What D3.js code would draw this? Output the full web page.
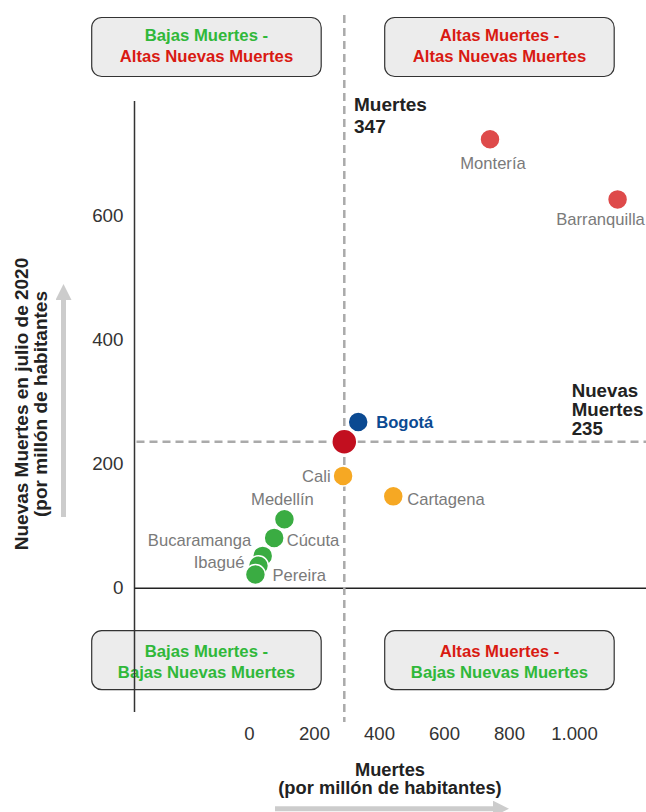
<!DOCTYPE html>
<html>
<head>
<meta charset="utf-8">
<script src="https://cdn.jsdelivr.net/npm/d3@7"></script>
<style>
  html, body { margin: 0; padding: 0; background: #fff; }
  svg { display: block; font-family: "Liberation Sans", Arial, sans-serif; }
</style>
</head>
<body>
<svg id="chart" width="646" height="812"></svg>
<script>
// ---------------- DATA ----------------
const cities = ["Montería", "Barranquilla", "Bogotá", "Colombia", "Cali", "Cartagena", "Medellín", "Cúcuta", "Bucaramanga", "Ibagué", "Pereira"];
const deaths = [588, 799, 370, 347, 345, 428, 248, 231, 212, 205, 200];          // Muertes por millón
const newDeaths = [723, 626, 267, 235, 180, 147, 110, 80, 51, 35, 21];          // Nuevas muertes julio 2020
const groups = ["alto", "alto", "bogota", "pais", "medio", "medio", "bajo", "bajo", "bajo", "bajo", "bajo"];
const xTickValues = [0, 200, 400, 600, 800, 1000];
const yTickValues = [0, 200, 400, 600];
const avgDeaths = 347;
const avgNewDeaths = 235;
const quadrantTitles = [
  ["Bajas Muertes -", "Altas Nuevas Muertes"],
  ["Altas Muertes -", "Altas Nuevas Muertes"],
  ["Bajas Muertes -", "Bajas Nuevas Muertes"],
  ["Altas Muertes -", "Bajas Nuevas Muertes"]
];
const yTitle = ["Nuevas Muertes en julio de 2020", "(por millón de habitantes"];
const xTitle = ["Muertes", "(por millón de habitantes)"];

// ---------------- STYLE / LAYOUT ----------------
const colors = { alto: "#de4a4a", pais: "#c20f1f", bogota: "#0b4a92", medio: "#f6a823", bajo: "#3aac42" };
const GREEN = "#30b83a", RED = "#d91a12";
const labelPlacement = {
  "Montería":    { dx: 3,   dy: 24,  anchor: "middle" },
  "Barranquilla":{ dx: -17, dy: 20,  anchor: "middle" },
  "Bogotá":      { dx: 18,  dy: 0,   anchor: "start", bold: true },
  "Cali":        { dx: -12.5, dy: 0, anchor: "end" },
  "Cartagena":   { dx: 14,  dy: 2.5, anchor: "start" },
  "Medellín":    { dx: -2,  dy: -20, anchor: "middle" },
  "Cúcuta":      { dx: 12.5,dy: 2.3, anchor: "start" },
  "Bucaramanga": { dx: -11.5,dy: -15.7, anchor: "end" },
  "Ibagué":      { dx: -14, dy: -3.4, anchor: "end" },
  "Pereira":     { dx: 17,  dy: 0.7, anchor: "start" }
};

const svg = d3.select("#chart");
const W = 646;

const x = d3.scaleLinear().domain([0, 1000]).range([134.5, 739.1]);
const y = d3.scaleLinear().domain([0, 600]).range([587.5, 215.5]);
// tick-label scale for the horizontal axis (labels in the reference sit on their own band)
const xTicks = d3.scaleLinear().domain([0, 1000]).range([249, 574]);

const loc = d3.formatLocale({ decimal: ",", thousands: ".", grouping: [3], currency: ["$", ""] });
const fmt = loc.format(",d");

// ----- quadrant boxes -----
const boxW = 229.5, boxH = 59;
const boxPos = [[91.7, 17.5], [384.7, 17.5], [91.7, 630.7], [384.7, 630.7]];
const textOffset = [23.3, 23.3, 26.3, 26.3];
quadrantTitles.forEach((lines, i) => {
  const g = svg.append("g").attr("transform", `translate(${boxPos[i][0]},${boxPos[i][1]})`);
  g.append("rect").attr("width", boxW).attr("height", boxH).attr("rx", 10).attr("ry", 10)
    .attr("fill", "#ececec").attr("stroke", "#333").attr("stroke-width", 1.2);
  lines.forEach((t, j) => {
    const col = t.startsWith("Bajas") ? GREEN : RED;
    g.append("text").attr("x", boxW / 2).attr("y", textOffset[i] + j * 21)
      .attr("text-anchor", "middle").attr("font-size", 16.7).attr("font-weight", "bold")
      .attr("fill", col).text(t);
  });
});

// ----- axes lines -----
svg.append("line").attr("x1", x(0)).attr("x2", x(0)).attr("y1", 101).attr("y2", 712)
  .attr("stroke", "#333").attr("stroke-width", 1.5);
svg.append("line").attr("x1", x(0)).attr("x2", W).attr("y1", y(0) + 0.8).attr("y2", y(0) + 0.8)
  .attr("stroke", "#222").attr("stroke-width", 1.5);

// ----- reference dashed lines -----
svg.append("line").attr("x1", x(avgDeaths)).attr("x2", x(avgDeaths)).attr("y1", 15).attr("y2", 722)
  .attr("stroke", "#aaa").attr("stroke-width", 2.5).attr("stroke-dasharray", "8,5");
svg.append("line").attr("x1", x(0) + 2).attr("x2", W).attr("y1", y(avgNewDeaths)).attr("y2", y(avgNewDeaths))
  .attr("stroke", "#aaa").attr("stroke-width", 2.5).attr("stroke-dasharray", "8,5");

// ----- y axis ticks -----
const yAxis = d3.axisLeft(y).tickValues(yTickValues).tickSize(0).tickPadding(11).tickFormat(fmt);
const gy = svg.append("g").attr("transform", `translate(${x(0)},0)`).call(yAxis);
gy.select(".domain").remove();
gy.selectAll("text").attr("font-size", 18.8).attr("fill", "#333")
  .attr("font-family", "'Liberation Sans', Arial, sans-serif").attr("dy", "0.3em");

// ----- x axis tick labels -----
const xAxis = d3.axisBottom(xTicks).tickValues(xTickValues).tickSize(0).tickPadding(0).tickFormat(fmt);
const gx = svg.append("g").attr("transform", `translate(0,733.5)`).call(xAxis);
gx.select(".domain").remove();
gx.selectAll("text").attr("font-size", 18.6).attr("fill", "#333")
  .attr("font-family", "'Liberation Sans', Arial, sans-serif").attr("dy", "0.35em");

// ----- reference labels -----
const refX = svg.append("text").attr("x", 354).attr("y", 110.7).attr("font-size", 19)
  .attr("font-weight", "bold").attr("fill", "#222");
refX.append("tspan").attr("x", 354).text("Muertes");
refX.append("tspan").attr("x", 354).attr("dy", 22).text(fmt(avgDeaths));

const refY = svg.append("text").attr("x", 571.7).attr("y", 397).attr("font-size", 18.7)
  .attr("font-weight", "bold").attr("fill", "#222");
refY.append("tspan").attr("x", 571.7).text("Nuevas");
refY.append("tspan").attr("x", 571.7).attr("dy", 19.2).text("Muertes");
refY.append("tspan").attr("x", 571.7).attr("dy", 19.2).text(fmt(avgNewDeaths));

// ----- axis titles -----
yTitle.forEach((t, j) => {
  svg.append("text").attr("transform", `translate(${21.7 + j * 18.5},404) rotate(-90)`)
    .attr("text-anchor", "middle").attr("dy", "0.35em").attr("font-size", 19)
    .attr("font-weight", "bold").attr("fill", "#222").text(t);
});
const xt = svg.append("text").attr("x", 390).attr("y", 775.5)
  .attr("text-anchor", "middle").attr("font-size", 18.3)
  .attr("font-weight", "bold").attr("fill", "#222");
xTitle.forEach((t, j) => {
  xt.append("tspan").attr("x", 390).attr("dy", j === 0 ? 0 : 18.3).text(t);
});

// ----- arrows -----
const defs = svg.append("defs");
defs.append("marker").attr("id", "arrow").attr("viewBox", "0 0 10 10").attr("refX", 0).attr("refY", 5)
  .attr("markerWidth", 3.2).attr("markerHeight", 3.2).attr("markerUnits", "strokeWidth").attr("orient", "auto")
  .append("path").attr("d", "M0,0 L10,5 L0,10 Z").attr("fill", "#cccccc");
svg.append("line").attr("x1", 63.5).attr("x2", 63.5).attr("y1", 517).attr("y2", 300)
  .attr("stroke", "#cccccc").attr("stroke-width", 5).attr("marker-end", "url(#arrow)");
svg.append("line").attr("x1", 275).attr("x2", 493).attr("y1", 808.7).attr("y2", 808.7)
  .attr("stroke", "#cccccc").attr("stroke-width", 5).attr("marker-end", "url(#arrow)");

// ----- points -----
const data = cities.map((c, i) => ({ city: c, x: deaths[i], y: newDeaths[i], group: groups[i] }));
svg.append("g").selectAll("circle").data(data).join("circle")
  .attr("cx", d => x(d.x)).attr("cy", d => y(d.y))
  .attr("r", d => d.group === "pais" ? 12.5 : 10)
  .attr("fill", d => colors[d.group])
  .attr("stroke", "#fff").attr("stroke-width", 1.5);

// ----- point labels -----
svg.append("g").selectAll("text").data(data.filter(d => labelPlacement[d.city])).join("text")
  .attr("x", d => x(d.x) + labelPlacement[d.city].dx)
  .attr("y", d => y(d.y) + labelPlacement[d.city].dy)
  .attr("dy", "0.35em")
  .attr("text-anchor", d => labelPlacement[d.city].anchor)
  .attr("font-size", 16.6)
  .attr("font-weight", d => labelPlacement[d.city].bold ? "bold" : "normal")
  .attr("fill", d => d.group === "bogota" ? colors.bogota : "#7a7a7a")
  .text(d => d.city);
</script>
</body>
</html>
